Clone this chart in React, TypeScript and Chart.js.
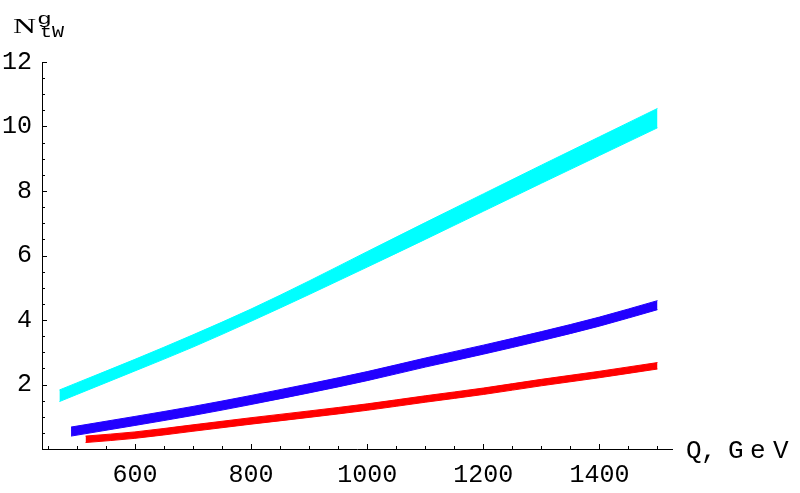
import React, { useEffect, useRef } from "react";
import { Chart, registerables } from "chart.js";

Chart.register(...registerables);

// ---- data ----
const cyanQ = [470, 500, 600, 700, 800, 900, 1000, 1100, 1200, 1300, 1400, 1500];
const cyanLow = [1.47, 1.69, 2.42, 3.16, 3.96, 4.79, 5.64, 6.5, 7.37, 8.24, 9.1, 9.96];
const cyanHigh = [1.83, 2.05, 2.78, 3.54, 4.34, 5.21, 6.12, 7.02, 7.91, 8.8, 9.68, 10.56];

const blueQ = [490, 600, 700, 800, 900, 1000, 1100, 1200, 1300, 1400, 1500];
const blueLow = [0.4, 0.73, 1.04, 1.38, 1.74, 2.12, 2.54, 2.94, 3.36, 3.81, 4.32];
const blueHigh = [0.68, 1.01, 1.32, 1.66, 2.02, 2.4, 2.82, 3.22, 3.64, 4.09, 4.6];

const redQ = [515, 600, 700, 800, 900, 1000, 1100, 1200, 1300, 1400, 1500];
const redLow = [0.2, 0.33, 0.55, 0.77, 0.98, 1.2, 1.45, 1.69, 1.96, 2.21, 2.48];
const redHigh = [0.4, 0.53, 0.75, 0.97, 1.18, 1.4, 1.65, 1.89, 2.16, 2.41, 2.68];

const xTickLabels = [600, 800, 1000, 1200, 1400];
const yTickLabels = [2, 4, 6, 8, 10, 12];
const xMinorStep = 50;
const yMinorStep = 0.5;
const xMin = 440;
const xMax = 1525;
const yMin = 0;
const yMax = 12;

const CYAN = "#00ffff";
const BLUE = "#2200ff";
const RED = "#ff0000";

function pts(q: number[], v: number[]) {
  return q.map((x, i) => ({ x, y: v[i] }));
}

function band(q: number[], low: number[], high: number[], color: string) {
  const common = {
    borderColor: color,
    backgroundColor: color,
    borderWidth: 1,
    pointRadius: 0,
    cubicInterpolationMode: "monotone",
  };
  return [
    { ...common, data: pts(q, low), fill: "+1" },
    { ...common, data: pts(q, high), fill: false },
  ];
}

const MONO = '"Liberation Mono", "DejaVu Sans Mono", monospace';

const decorPlugin = {
  id: "decor",
  afterDraw(chart: any) {
    const ctx = chart.ctx as CanvasRenderingContext2D;
    const xs = chart.scales.x;
    const ys = chart.scales.y;
    const { left, bottom } = chart.chartArea;
    ctx.save();
    ctx.strokeStyle = "#000";
    ctx.lineWidth = 1;
    xs.ticks.forEach((t: any) => {
      const px = Math.round(xs.getPixelForValue(t.value)) + 0.5;
      const len = xTickLabels.includes(t.value) ? 5 : 3;
      ctx.beginPath();
      ctx.moveTo(px, bottom);
      ctx.lineTo(px, bottom - len);
      ctx.stroke();
    });
    ys.ticks.forEach((t: any) => {
      const py = Math.round(ys.getPixelForValue(t.value)) + 0.5;
      const len = yTickLabels.includes(t.value) ? 5 : 3;
      ctx.beginPath();
      ctx.moveTo(left, py);
      ctx.lineTo(left + len, py);
      ctx.stroke();
    });

    ctx.fillStyle = "#000";
    ctx.textBaseline = "alphabetic";
    ctx.textAlign = "left";
    // x axis title "Q, GeV"
    ctx.font = "26px " + MONO;
    ctx.fillText("Q", 686, 458);
    ctx.fillText(",", 701, 458);
    ctx.fillText("G", 728, 458);
    ctx.fillText("e", 750, 458);
    ctx.fillText("V", 773, 458);

    // y axis title N^g_tW
    ctx.save();
    ctx.font = '22px "Liberation Serif", serif';
    ctx.translate(13, 33);
    ctx.scale(1.45, 1);
    ctx.fillText("N", 0, 0);
    ctx.restore();
    ctx.save();
    ctx.font = "17px " + MONO;
    ctx.translate(37, 24);
    ctx.scale(1.45, 1);
    ctx.fillText("g", 0, 0);
    ctx.restore();
    ctx.save();
    ctx.font = "16px " + MONO;
    ctx.translate(40, 37);
    ctx.scale(1.25, 1);
    ctx.fillText("tW", 0, 0);
    ctx.restore();
    ctx.restore();
  },
};

export default function App() {
  const ref = useRef<HTMLCanvasElement | null>(null);
  useEffect(() => {
    if (!ref.current) return;
    const chart = new Chart(ref.current, {
      type: "line",
      data: {
        datasets: [
          ...band(cyanQ, cyanLow, cyanHigh, CYAN),
          ...band(blueQ, blueLow, blueHigh, BLUE),
          ...band(redQ, redLow, redHigh, RED),
        ] as any,
      },
      options: {
        animation: false,
        responsive: false,
        layout: { padding: { top: 62, right: 128, left: 0, bottom: 0 } },
        plugins: {
          legend: { display: false },
          tooltip: { enabled: false },
          title: { display: false },
        },
        scales: {
          x: {
            type: "linear",
            min: xMin,
            max: xMax,
            grid: { display: false, drawTicks: false },
            border: { display: true, color: "#000", width: 1 },
            afterBuildTicks(scale: any) {
              const arr: any[] = [];
              for (let v = Math.ceil(xMin / xMinorStep) * xMinorStep; v <= xMax; v += xMinorStep) arr.push({ value: v });
              scale.ticks = arr;
            },
            afterFit(scale: any) {
              scale.height = 44;
            },
            ticks: {
              autoSkip: false,
              maxRotation: 0,
              minRotation: 0,
              padding: 11,
              color: "#000",
              font: { family: MONO, size: 25 },
              callback: (v: any) => (xTickLabels.includes(Number(v)) ? String(v) : ""),
            },
          },
          y: {
            type: "linear",
            min: yMin,
            max: yMax,
            grid: { display: false, drawTicks: false },
            border: { display: true, color: "#000", width: 1 },
            afterBuildTicks(scale: any) {
              const arr: any[] = [];
              for (let v = yMinorStep; v <= yMax + 1e-9; v += yMinorStep) arr.push({ value: Math.round(v * 10) / 10 });
              scale.ticks = arr;
            },
            afterFit(scale: any) {
              scale.width = 42;
            },
            ticks: {
              autoSkip: false,
              padding: 10,
              color: "#000",
              font: { family: MONO, size: 25 },
              callback: (v: any) => (yTickLabels.includes(Number(v)) ? String(v) : ""),
            },
          },
        },
      },
      plugins: [decorPlugin],
    });
    return () => chart.destroy();
  }, []);
  return (
    <div style={{ position: "fixed", left: 0, top: 0, width: 800, height: 493, background: "#fff" }}>
      <canvas ref={ref} width={800} height={493} style={{ display: "block", width: 800, height: 493 }} />
    </div>
  );
}
